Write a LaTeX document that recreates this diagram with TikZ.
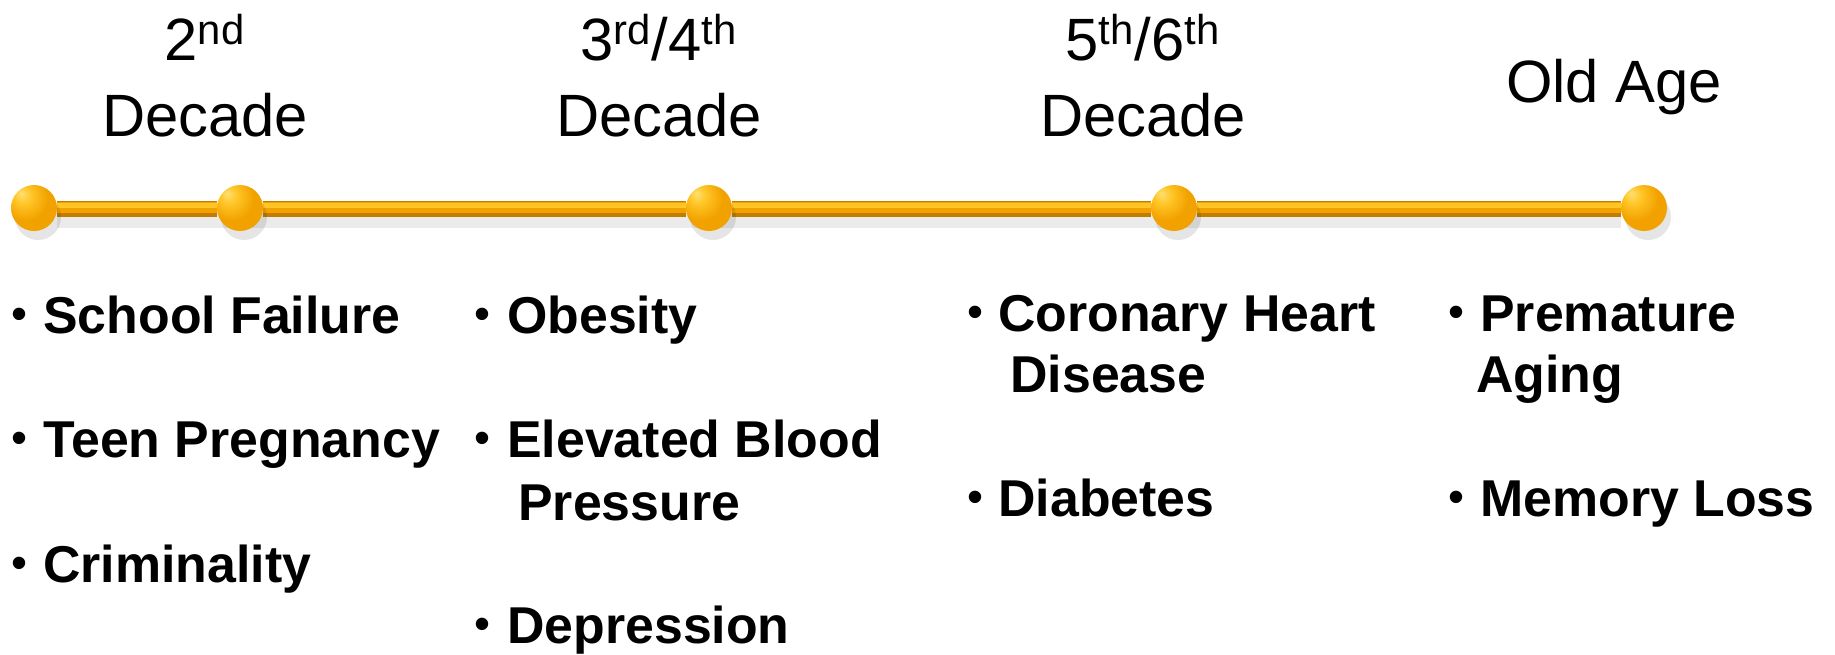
\documentclass[tikz,border=0pt]{standalone}
\usepackage{fontspec}
\setmainfont{Liberation Sans}
\usetikzlibrary{backgrounds}

\definecolor{tubeorange}{HTML}{F2A200}
\definecolor{tubedark}{HTML}{C47C00}
\definecolor{tubelight}{HTML}{FFC425}
\definecolor{ballhi}{HTML}{FFE070}

\pgfdeclareradialshading{knobshade}{\pgfpoint{-14bp}{16bp}}{%
  color(0bp)=(ballhi); color(10bp)=(tubelight); color(24bp)=(tubeorange);
  color(48bp)=(tubeorange); color(62bp)=(tubedark); color(70bp)=(tubedark)}

\tikzset{
  decade/.style={anchor=base, inner sep=0pt, font=\fontsize{34}{40}\selectfont},
  item/.style={anchor=base west, inner sep=0pt, font=\fontsize{29.5}{35}\selectfont\bfseries},
  dot/.style={anchor=base, inner sep=0pt, yshift=0.07cm, font=\fontsize{26}{30}\selectfont},
  knob/.style={circle, inner sep=0pt, minimum size=0.92cm, shading=knobshade},
  tube/.style={line width=0.32cm, tubedark},
  tubemid/.style={line width=0.22cm, tubeorange},
  tubehi/.style={line width=0.09cm, tubelight},
  tubeshadow/.style={line width=0.3cm, black, opacity=0.08}
}

\begin{document}
\begin{tikzpicture}[x=0.02cm, y=-0.02cm]
        \useasboundingbox (0,0) rectangle (1835,654);
        % timeline
        \fill[black, opacity=0.1] (38,217) circle (0.46cm);
        \fill[black, opacity=0.1] (244,217) circle (0.46cm);
        \fill[black, opacity=0.1] (713,217) circle (0.46cm);
        \fill[black, opacity=0.1] (1178,217) circle (0.46cm);
        \fill[black, opacity=0.1] (1648,217) circle (0.46cm);
        \node[knob] (k1) at (34, 208) {};
        \node[knob] (k2) at (240, 208) {};
        \node[knob] (k3) at (709, 208) {};
        \node[knob] (k4) at (1174, 208) {};
        \node[knob] (k5) at (1644, 208) {};
        \begin{scope}[on background layer]
            \draw[tubeshadow, transform canvas={yshift=-0.24cm}] (k1) -- (k5);
            \foreach \a/\b in {k1/k2, k2/k3, k3/k4, k4/k5} {
                \draw[tube, transform canvas={yshift=-0.02cm}] (\a) -- (\b);
                \draw[tubemid, transform canvas={yshift=0.01cm}] (\a) -- (\b);
                \draw[tubehi, transform canvas={yshift=0.05cm}] (\a) -- (\b);
            }
        \end{scope}
        % decades
        \node[decade] (d2a) at (205, 60) {2\textsuperscript{nd}};
        \node[decade] (d2b) at (205, 136) {Decade};
        \node[decade] (d3a) at (659, 60) {3\textsuperscript{rd}/4\textsuperscript{th}};
        \node[decade] (d3b) at (659, 136) {Decade};
        \node[decade] (d5a) at (1143, 60) {5\textsuperscript{th}/6\textsuperscript{th}};
        \node[decade] (d5b) at (1143, 136) {Decade};
        \node[decade] (old) at (1614, 102) {Old Age};
        % risks
        \node[dot] (b11) at (19, 333) {•};
        \node[item] (t11) at (43, 333) {School Failure};
        \node[dot] (b12) at (19, 457) {•};
        \node[item] (t12) at (43, 457) {Teen Pregnancy};
        \node[dot] (b13) at (19, 582) {•};
        \node[item] (t13) at (43, 582) {Criminality};
        \node[dot] (b21) at (482, 333) {•};
        \node[item] (t21) at (507, 333) {Obesity};
        \node[dot] (b22) at (482, 457) {•};
        \node[item] (t22) at (507, 457) {Elevated Blood};
        \node[item] (t22b) at (518, 520) {Pressure};
        \node[dot] (b23) at (482, 643) {•};
        \node[item] (t23) at (507, 643) {Depression};
        \node[dot] (b31) at (975, 331) {•};
        \node[item] (t31) at (998, 331) {Coronary Heart};
        \node[item] (t31b) at (1010, 392) {Disease};
        \node[dot] (b32) at (975, 516) {•};
        \node[item] (t32) at (998, 516) {Diabetes};
        \node[dot] (b41) at (1456, 331) {•};
        \node[item] (t41) at (1480, 331) {Premature};
        \node[item] (t41b) at (1476, 392) {Aging};
        \node[dot] (b42) at (1456, 516) {•};
        \node[item] (t42) at (1480, 516) {Memory Loss};
    \end{tikzpicture}
\end{document}
